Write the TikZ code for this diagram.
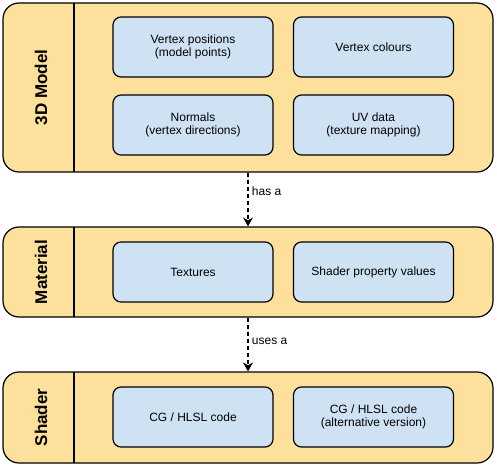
\documentclass[tikz,border=0pt]{standalone}
\usepackage{fontspec}
\setmainfont{Liberation Sans}
\usetikzlibrary{arrows.meta}
\definecolor{lanefill}{HTML}{FCE09B}
\definecolor{itemfill}{HTML}{CFE2F3}
\tikzset{
  lane/.style={draw, line width=1.2pt, fill=lanefill, rounded corners=16pt, minimum width=490pt},
  item/.style={draw, line width=1.2pt, fill=itemfill, rounded corners=8pt, minimum width=160pt, minimum height=60pt, align=center, font=\fontsize{12pt}{13.5pt}\selectfont},
  title/.style={rotate=90, font=\fontsize{17pt}{20pt}\selectfont\bfseries},
  dep/.style={-{Stealth[length=9pt,width=10pt,inset=3pt]}, line width=1.2pt, dash pattern=on 4pt off 3pt},
  lbl/.style={right, font=\fontsize{12pt}{13.5pt}\selectfont}
}
\begin{document}
\begin{tikzpicture}[x=1pt,y=-1pt]
				\useasboundingbox (0,0) rectangle (497,470);
				\node[lane, minimum height=169pt] (model) at (248,87.5) {};
				\node[lane, minimum height=90pt] (material) at (248,272) {};
				\node[lane, minimum height=91pt] (shader) at (248,417.5) {};
				\draw[line width=1.2pt] (74,3) -- (74,172);
				\draw[line width=1.2pt] (74,227) -- (74,317);
				\draw[line width=1.2pt] (74,372) -- (74,463);
				\node[title] (tmodel) at (41,87.5) {3D Model};
				\node[title] (tmaterial) at (41,272) {Material};
				\node[title] (tshader) at (41,417.5) {Shader};
				\node[item] (pos) at (193,47) {Vertex positions\\(model points)};
				\node[item] (col) at (373.5,47) {Vertex colours};
				\node[item] (nrm) at (193,125) {Normals\\(vertex directions)};
				\node[item] (uv) at (373.5,125) {UV data\\(texture mapping)};
				\node[item] (tex) at (193,272) {Textures};
				\node[item] (prop) at (373.5,272) {Shader property values};
				\node[item] (code) at (193,417) {CG / HLSL code};
				\node[item] (alt) at (373.5,417) {CG / HLSL code\\(alternative version)};
				\draw[dep] (model.south) to node[lbl, pos=0.34]{has a} (material.north);
				\draw[dep] (material.south) to node[lbl, pos=0.44]{uses a} (shader.north);
			\end{tikzpicture}
\end{document}
